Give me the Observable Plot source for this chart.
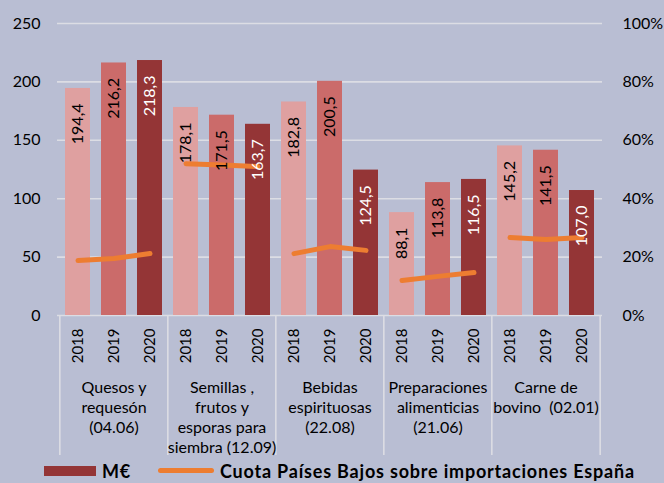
<!DOCTYPE html>
<html>
<head>
<meta charset="utf-8">
<script src="https://cdn.jsdelivr.net/npm/d3@7"></script>
<script src="https://cdn.jsdelivr.net/npm/@observablehq/plot@0.6"></script>
<style>
  html, body { margin: 0; padding: 0; background: #B9BED3; }
  #wrap { position: relative; width: 664px; height: 483px; overflow: hidden; font-family: Lato, sans-serif; }
  #legend { position: absolute; left: 0; top: 460px; width: 664px; height: 23px; }
  .sw { position: absolute; }
  .lt { position: absolute; top: 0px; font-weight: bold; font-size: 18px; letter-spacing: 0.8px; color: #000; white-space: nowrap; }
</style>
</head>
<body>
<div id="wrap">
  <div id="chart"></div>
  <div id="legend">
    <div class="sw" style="left:44px;top:6px;width:52px;height:10px;background:#943536"></div>
    <div class="lt" style="left:102px">M€</div>
    <div class="sw" style="left:158px;top:8px;width:56px;height:5px;border-radius:3px;background:#ED7D31"></div>
    <div class="lt" style="left:220px">Cuota Países Bajos sobre importaciones España</div>
  </div>
</div>
<script>
const categories = [
  "Quesos y\nrequesón\n(04.06)",
  "Semillas ,\nfrutos y\nesporas para\nsiembra (12.09)",
  "Bebidas\nespirituosas\n(22.08)",
  "Preparaciones\nalimenticias\n(21.06)",
  "Carne de\nbovino  (02.01)"
];
const years = ["2018", "2019", "2020"];
const values2018 = [194.4, 178.1, 182.8, 88.1, 145.2];
const values2019 = [216.2, 171.5, 200.5, 113.8, 141.5];
const values2020 = [218.3, 163.7, 124.5, 116.5, 107.0];
const share2018 = [18.8, 52.0, 21.2, 12.0, 26.7];
const share2019 = [19.5, 51.5, 23.6, 13.4, 26.0];
const share2020 = [21.2, 51.0, 22.3, 14.7, 26.7];
const leftTicks = [0, 50, 100, 150, 200, 250];

const valuesByYear = {"2018": values2018, "2019": values2019, "2020": values2020};
const shareByYear = {"2018": share2018, "2019": share2019, "2020": share2020};
const barColors = {"2018": "#DFA0A0", "2019": "#CB6B6A", "2020": "#943536"};
const textColors = {"2018": "#000", "2019": "#000", "2020": "#fff"};

const key = (i, y) => `${i}|${y}`;
const domain = [];
const rows = [];
categories.forEach((c, i) => years.forEach(y => {
  domain.push(key(i, y));
  rows.push({k: key(i, y), cat: i, year: y, value: valuesByYear[y][i], share: shareByYear[y][i]});
}));
const catRows = categories.map((c, i) => ({k: key(i, "2019"), label: c}));
const fmt = v => d3.format(".1f")(v).replace(".", ",");

const W = 664, H = 460, mL = 57, mR = 62, mT = 23, mB = 145;
const step = (W - mL - mR) / domain.length;

const chart = Plot.plot({
  width: W, height: H,
  marginLeft: mL, marginRight: mR, marginTop: mT, marginBottom: mB,
  style: {background: "transparent", fontFamily: "Lato, sans-serif", fontSize: "16px", color: "#000"},
  x: {domain, type: "band", paddingInner: 0.31, paddingOuter: 0.155, label: null},
  y: {domain: [0, 250], label: null},
  marks: [
    Plot.ruleY(leftTicks, {stroke: "#DCDDE4", strokeWidth: 1.6}),
    Plot.ruleX(categories.map((c, i) => key(i, "2018")), {stroke: "#DCDDE4", strokeWidth: 1.6, dx: -step / 2, insetTop: H - mT - mB, insetBottom: -140}),
    Plot.ruleX([key(categories.length - 1, "2020")], {stroke: "#DCDDE4", strokeWidth: 1.6, dx: step / 2, insetTop: H - mT - mB, insetBottom: -140}),
    Plot.barY(rows, {x: "k", y: "value", fill: d => barColors[d.year]}),
    Plot.lineY(rows, {x: "k", y: d => d.share * 2.5, z: "cat", stroke: "#ED7D31", strokeWidth: 5, strokeLinecap: "round", strokeLinejoin: "round"}),
    Plot.text(rows, {x: "k", y: "value", text: d => fmt(d.value), rotate: -90, textAnchor: "end", dy: 15, fill: d => textColors[d.year], fontSize: 16}),
    Plot.axisX({tickFormat: k => k.split("|")[1], tickRotate: -90, tickSize: 0, tickPadding: 13, fontSize: 15}),
    Plot.text(catRows, {x: "k", text: "label", frameAnchor: "bottom", lineAnchor: "top", dy: 63, lineHeight: 1.25, fontSize: 16}),
    Plot.axisY({anchor: "left", ticks: leftTicks, tickSize: 0, tickPadding: 17, fontSize: 16}),
    Plot.axisY({anchor: "right", ticks: leftTicks, tickFormat: d => (d / 2.5) + "%", tickSize: 0, tickPadding: 20, fontSize: 16})
  ]
});
document.getElementById("chart").appendChild(chart);
</script>
</body>
</html>
